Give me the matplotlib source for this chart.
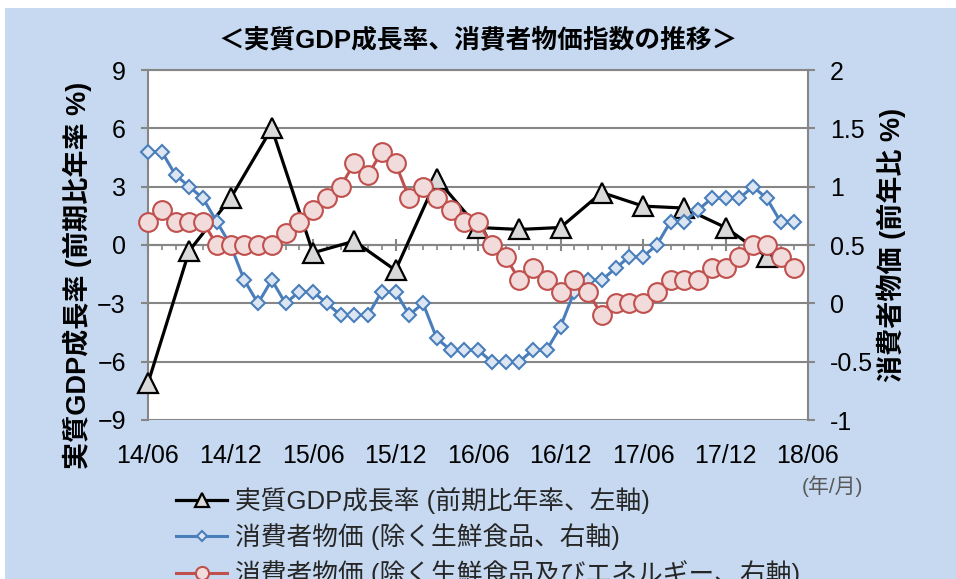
import numpy as np
import matplotlib.pyplot as plt
from matplotlib.patches import Rectangle
from matplotlib.ticker import MultipleLocator

plt.rcParams['font.family'] = ['Liberation Sans', 'Noto Sans CJK JP']

# month index: 0 = 2014/06
gdp_months = [0, 3, 6, 9, 12, 15, 18, 21, 24, 27, 30, 33, 36, 39, 42, 45]
gdp = [-7.1, -0.3, 2.4, 6.0, -0.4, 0.2, -1.3, 3.4, 0.9, 0.8, 0.9, 2.7, 2.0, 1.9, 0.9, -0.6]

cpi_months = list(range(48))
cpi_core = [1.3, 1.3, 1.1, 1.0, 0.9, 0.7, 0.5, 0.2, 0.0, 0.2, 0.0, 0.1,
            0.1, 0.0, -0.1, -0.1, -0.1, 0.1, 0.1, -0.1, 0.0, -0.3, -0.4, -0.4,
            -0.4, -0.5, -0.5, -0.5, -0.4, -0.4, -0.2, 0.1, 0.2, 0.2, 0.3, 0.4,
            0.4, 0.5, 0.7, 0.7, 0.8, 0.9, 0.9, 0.9, 1.0, 0.9, 0.7, 0.7]
cpi_core_core = [0.7, 0.8, 0.7, 0.7, 0.7, 0.5, 0.5, 0.5, 0.5, 0.5, 0.6, 0.7,
                 0.8, 0.9, 1.0, 1.2, 1.1, 1.3, 1.2, 0.9, 1.0, 0.9, 0.8, 0.7,
                 0.7, 0.5, 0.4, 0.2, 0.3, 0.2, 0.1, 0.2, 0.1, -0.1, 0.0, 0.0,
                 0.0, 0.1, 0.2, 0.2, 0.2, 0.3, 0.3, 0.4, 0.5, 0.5, 0.4, 0.3]

tick_months = [0, 6, 12, 18, 24, 30, 36, 42, 48]
tick_labels = ['14/06', '14/12', '15/06', '15/12', '16/06', '16/12', '17/06', '17/12', '18/06']

title = '＜実質GDP成長率、消費者物価指数の推移＞'
left_label = '実質GDP成長率 (前期比年率 %)'
right_label = '消費者物価 (前年比 %)'
names = ['実質GDP成長率 (前期比年率、左軸)',
         '消費者物価 (除く生鮮食品、右軸)',
         '消費者物価 (除く生鮮食品及びエネルギー、右軸)']

W, H = 956, 579
grey = '#868686'
bg = '#C6D9F0'

fig = plt.figure(figsize=(W / 100, H / 100), dpi=100)
fig.patch.set_facecolor('white')
fig.patches.append(Rectangle((5 / W, 0), 1, 1 - 8 / H, transform=fig.transFigure,
                             facecolor=bg, edgecolor='none', zorder=-10))

ax = fig.add_axes([148 / W, 1 - 420 / H, 660 / W, 350 / H])
ax.set_facecolor('white')
ax2 = ax.twinx()

# left axis (GDP)
l1, = ax.plot(gdp_months, gdp, color='black', lw=2.3, marker='^', ms=14.5,
              mfc='#D9D9D9', mec='black', mew=1.6, clip_on=False, zorder=3)
ax.set_ylim(-9, 9)
ax.set_xlim(0, 48)
ax.yaxis.set_major_locator(MultipleLocator(3))
ax.grid(axis='y', color=grey, lw=1.5)
ax.set_axisbelow(True)

# right axis (CPI)
l2, = ax2.plot(cpi_months, cpi_core, color='#4A7EBB', lw=2.2, marker='D', ms=7,
               mfc='#DCE6F2', mec='#4A7EBB', mew=1.5, clip_on=False, zorder=3)
l3, = ax2.plot(cpi_months, cpi_core_core, color='#C0504D', lw=2.2, marker='o', ms=13.5,
               mfc='#F2DCDB', mec='#C0504D', mew=1.5, clip_on=False, zorder=4)
ax2.set_ylim(-1, 2)
ax2.set_yticks([2, 1.5, 1, 0.5, 0, -0.5, -1], ['2', '1.5', '1', '0.5', '0', '-0.5', '-1'])

# spines
for a in (ax, ax2):
    for s in a.spines.values():
        s.set_color(grey)
        s.set_linewidth(1.5)
ax.spines['top'].set_visible(False)
ax.spines['right'].set_visible(False)
ax2.spines['left'].set_visible(False)
ax2.spines['bottom'].set_visible(False)
ax.spines['bottom'].set_position(('data', 0))

# x axis drawn at 0, labels at the bottom
ax.set_xticks(tick_months)
ax.xaxis.set_minor_locator(MultipleLocator(1))
ax.tick_params(axis='x', which='major', direction='inout', length=9, width=1.5,
               color=grey, labelbottom=False)
ax.tick_params(axis='x', which='minor', direction='out', length=3.5, width=1.2, color=grey)
sec = ax.secondary_xaxis('bottom')
sec.set_xticks(tick_months, tick_labels)
sec.tick_params(length=0, pad=17, labelsize=18)
sec.spines['bottom'].set_visible(False)

ax.tick_params(axis='y', direction='out', length=5, width=1.5, color=grey,
               pad=11, labelsize=18)
ax2.tick_params(axis='y', direction='out', length=5, width=1.5, color=grey,
                pad=11, labelsize=18)

ax.set_ylabel(left_label, fontsize=19.5, fontweight='bold')
ax2.set_ylabel(right_label, fontsize=19.5, fontweight='bold', rotation=90)
ax.yaxis.set_label_coords(-0.085, 0.414)
ax2.yaxis.set_label_coords(1.104, 0.5)

fig.text(478 / W, 1 - 40 / H, title, ha='center', va='center',
         fontsize=18.5, fontweight='bold')
fig.text(832 / W, 1 - 486 / H, '(年/月)', ha='center', va='center',
         fontsize=15, color='#595959')

fig.legend([l1, l2, l3], names, loc='upper left', bbox_to_anchor=(176 / W, 1 - 487 / H),
           frameon=False, fontsize=18.5, handlelength=2.0, handletextpad=0.3,
           labelspacing=0.37, markerscale=0.7, borderpad=0, borderaxespad=0,
           labelcolor='#262626')

fig.savefig('out.png', dpi=100)
